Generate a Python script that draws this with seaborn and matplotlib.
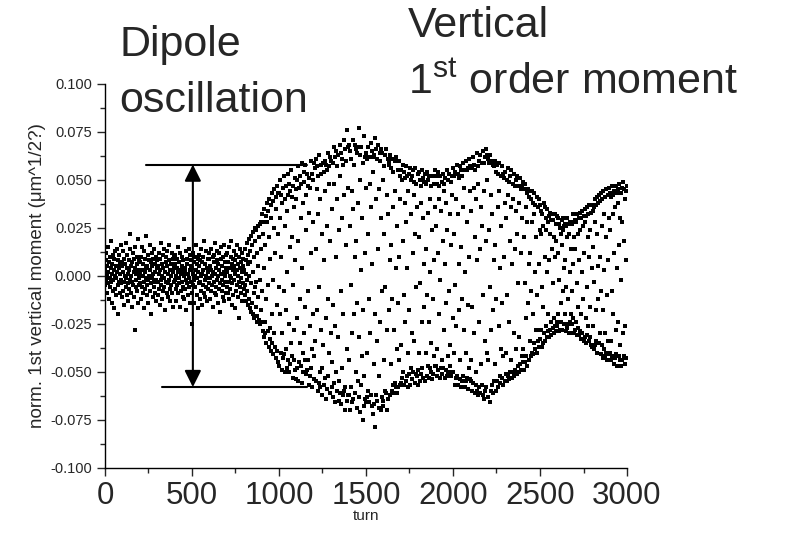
import matplotlib
matplotlib.use("Agg")
import matplotlib.pyplot as plt
import seaborn as sns
import pandas as pd
from matplotlib.ticker import MultipleLocator, AutoMinorLocator, FormatStrFormatter

# first order vertical moment in units of 1e-3, one row per 100 turns, sampled every 2 turns
moment_rows = [
    "3 -5 8 12 -2 0 -9 5 15 -4 2 -12 7 -1 10 -6 4 18 -3 -14 6 1 -8 11 -2 9 -17 3 0 13 -7 5 -1 -10 14 2 -5 8 -20 4 -3 11 6 -9 1 16 -4 -2 7 -11",
    "5 -8 2 13 -3 9 -15 0 6 -6 17 -1 -10 4 11 -4 1 -13 8 3 -7 14 -2 22 -9 5 0 -16 7 -3 12 -5 2 -11 9 -28 4 15 -6 1 -2 10 -8 6 -14 3 19 -1 -5 8",
    "-4 7 1 -12 10 -6 3 15 -9 0 6 -3 13 -17 2 -7 9 4 -1 21 -10 5 -5 11 -2 -14 8 0 -8 16 3 -4 7 -20 12 -1 5 -11 1 9 -6 14 -3 -9 6 2 -13 10 -2 4",
    "8 -3 -10 5 12 -7 1 -15 9 3 -5 17 -2 6 -12 0 11 -8 4 -1 14 -6 2 -18 7 -3 10 -9 5 13 -4 1 -11 8 -2 16 -7 3 -13 6 0 -5 12 -9 2 9 -16 4 -3 11",
    "-2 6 11 -7 0 -13 4 9 -5 2 15 -9 -1 7 -4 12 -16 3 1 -8 10 5 -3 -11 8 -6 19 0 -12 4 2 -7 13 -2 -18 6 9 -4 1 -10 14 -1 -6 3 11 -14 5 -3 8 -25",
    "4 -9 1 12 -5 7 -2 -14 10 0 -6 16 3 -10 6 -1 9 -17 2 11 -4 5 -12 8 -3 0 14 -8 7 -15 1 10 -5 3 -9 18 -2 6 -11 0 13 -6 4 -1 -13 9 2 -7 12 -4",
    "9 -1 -12 5 3 -8 14 0 -5 10 -16 2 7 -3 11 -9 1 17 -6 4 -10 8 -2 13 -14 6 0 -7 12 3 -4 -19 9 1 15 -8 5 -2 -11 10 -5 2 16 -13 7 0 -3 11 -9 4",
    "-6 12 2 -9 7 -3 15 -12 4 0 -7 10 -1 18 -15 6 -4 9 3 -10 13 -2 5 -17 8 1 -8 11 -5 3 16 -11 0 6 -3 -22 10 4 -6 14 -1 -9 7 2 12 -13 5 -4 9 -7",
    "3 -10 14 -5 8 -13 1 17 -8 -2 11 -15 6 19 -12 0 -17 13 7 -19 21 -4 -14 16 2 -20 23 -9 10 -22 18 -6 25 -16 -3 24 -21 12 -24 5 26 -11 -23 20 -2 27 -25 14 -18 28",
    "-24 32 -8 -29 22 28 -32 4 35 -24 -30 16 31 -12 -35 28 38 -29 -5 34 -37 20 40 -27 -33 9 37 -39 30 -20 43 -35 -2 39 -41 25 45 -30 -37 12 41 -43 35 -15 47 -39 22 43 -45 -6",
    "43 -47 30 -20 50 -40 10 42 -49 38 -30 46 -43 -8 52 -41 26 40 -50 -18 47 -38 34 -48 2 53 -44 42 -25 48 -50 15 44 -46 -35 55 20 -42 41 -53 -5 47 -44 36 -28 51 -49 8 45 -54",
    "40 -48 -22 50 -55 18 57 -45 46 -35 -12 52 -47 30 48 -56 4 59 -50 38 -40 49 -30 54 -44 -16 58 -51 42 24 -49 53 -8 47 -44 33 -57 51 -26 46 -52 12 60 -48 -38 53 -58 28 50 -20",
    "-54 59 -42 56 -34 14 61 -55 45 -18 57 -60 32 52 -56 -6 63 -50 40 -58 53 -28 58 -62 22 -48 59 -36 54 -57 8 60 -53 44 -22 58 -64 26 55 -59 -12 64 -52 48 -40 57 -61 18 62 -30",
    "60 -58 35 -45 59 -63 -15 67 -56 48 -26 62 -66 10 65 -50 40 -60 57 -32 63 -65 24 -55 68 -61 52 -8 64 -67 30 -48 61 -62 58 -20 71 -60 42 -58 66 -70 16 60 -65 76 -38 67 -62 46",
    "-62 68 -44 26 65 -70 -5 61 -58 44 -30 -66 71 35 -64 58 -20 68 10 -61 66 -50 18 64 -69 -14 67 -55 38 77 -63 -32 63 50 -71 3 -57 67 -42 30 -75 59 -18 -68 73 -52 12 62 -64 46",
    "-66 64 -40 61 -63 22 67 -60 -12 62 -66 48 -30 69 -62 36 65 -68 6 62 -72 54 -46 63 -67 -20 72 -79 40 66 -62 -34 61 -65 14 68 -52 45 -69 64 -24 60 -70 30 66 -63 -8 64 -68 50",
    "-65 57 -44 22 63 -60 -6 66 -61 42 -28 -70 61 32 -64 58 -18 60 8 -62 63 -46 16 56 -60 -12 61 -57 36 54 -61 -28 60 44 -56 4 -58 62 -38 26 -61 55 -14 -58 60 -44 10 52 -57 40",
    "-56 55 -36 50 -53 18 58 -50 -10 54 -57 38 -24 51 -55 28 57 -52 4 52 -58 44 -40 53 -51 -18 56 -57 32 50 -48 -30 52 -54 12 55 -50 42 -34 49 -56 22 56 -51 -6 48 -52 36 53 -57",
    "-49 54 -40 20 50 -55 -4 47 -51 38 -24 -48 55 30 -53 51 -16 49 6 -55 53 -40 14 48 -52 -10 54 -47 33 50 -53 -24 52 40 -48 2 -50 47 -35 24 -54 52 -12 -51 48 -42 8 55 -47 36",
    "52 -47 26 -38 48 -52 12 54 -49 40 -20 47 -53 -2 52 -48 34 -44 49 -51 18 53 -48 44 -28 48 -53 6 51 -49 38 -14 55 -52 24 -42 50 -50 -8 53 -47 32 -36 49 -52 16 52 -50 42 -22",
    "-50 56 -40 22 52 -57 -5 54 -53 40 -26 -52 58 32 -57 53 -18 51 6 -54 57 -44 15 55 -58 -12 52 -55 36 59 -52 -28 55 46 -58 2 -55 60 -40 28 -53 55 -15 -59 56 -48 10 61 -54 44",
    "57 -55 34 -44 56 -60 -16 62 -56 46 -30 58 -61 20 55 -57 40 -50 64 -60 8 57 -62 48 -24 60 -58 14 63 -61 36 -46 59 -57 26 65 -62 -10 59 -64 44 -34 62 -60 18 66 -58 50 -40 63",
    "-63 61 -44 24 59 -66 -6 63 -60 42 -28 -57 60 32 -61 58 -18 57 8 -55 60 -46 16 54 -60 -12 58 -55 36 53 -58 -26 59 44 -52 4 -56 52 -38 26 -53 57 -14 -57 53 -42 10 51 -55 38",
    "54 -51 30 -40 50 -55 -10 56 -52 42 -24 49 -54 18 52 -50 36 -44 55 -53 6 48 -50 40 -30 53 -52 14 47 -49 34 -38 50 -51 22 52 -47 -4 47 -50 38 -32 51 -46 12 45 -49 30 -42 47",
    "-45 49 -38 20 45 -49 -4 48 -45 36 -22 -42 43 28 -47 45 -14 41 6 -44 44 -34 12 40 -42 -8 44 -40 28 38 -41 -20 43 32 -35 2 -38 37 -28 20 -40 41 -10 -34 36 -28 6 40 -37 24",
    "37 -33 22 -28 34 -37 -6 32 -35 26 -16 38 -30 10 36 -34 24 -26 30 -32 2 35 -29 28 -20 31 -32 8 33 -28 22 -24 29 -31 14 32 -27 -4 29 -30 20 -22 32 -26 10 27 -29 18 -24 31",
    "-26 30 -20 12 27 -29 -2 25 -28 22 -14 -24 29 16 -28 24 -8 30 4 -25 26 -20 8 27 -29 -6 26 -27 20 30 -25 -12 27 22 -30 2 -24 28 -20 14 -30 27 -8 -25 32 -22 6 28 -30 20",
    "29 -28 14 -24 28 -31 -4 32 -27 22 -16 30 -31 8 33 -29 24 -20 30 -33 2 34 -30 26 -12 31 -34 12 35 -32 28 -22 31 -35 -6 36 -31 20 -26 32 -34 10 37 -32 24 -16 33 -36 4 37",
    "-37 34 -26 15 36 -38 -3 40 -36 28 -18 -34 37 22 -40 41 -12 38 5 -35 42 -30 10 39 -41 -8 43 -36 26 40 -43 -18 44 32 -38 3 -42 41 -30 20 -40 45 -10 -44 42 -34 8 46 -41 30",
    "43 -40 24 -34 41 -44 -8 47 -42 32 -20 42 -46 12 44 -43 36 -28 47 -41 4 43 -47 38 -24 45 -42 16 48 -44 30 -36 43 -47 -2 46 -44 28 -30 49 -42 18 45 -46 40 -26 44 -43 8 47",
]

turn = []
moment = []
for r, row in enumerate(moment_rows):
    for i, v in enumerate(row.split()):
        turn.append(r * 100 + 2 * i)
        moment.append(int(v) / 1000)

# dipole amplitude marker
amp_level = 0.058
arrow_turn = 505

df = pd.DataFrame({"turn": turn, "moment": moment})

sns.set_style("ticks")
plt.rcParams["font.family"] = ["Liberation Sans", "DejaVu Sans"]
plt.rcParams["mathtext.fontset"] = "custom"
plt.rcParams["mathtext.rm"] = "Liberation Sans"
plt.rcParams["axes.unicode_minus"] = False

fig = plt.figure(figsize=(7.87, 5.47), dpi=100)
ax = fig.add_axes([0.1334, 0.145, 0.6633, 0.7015])

sns.scatterplot(data=df, x="turn", y="moment", marker="s", s=6, color="black",
                linewidth=0, ax=ax, legend=False)

ax.set_xlim(0, 3000)
ax.set_ylim(-0.1, 0.1)
ax.xaxis.set_major_locator(MultipleLocator(500))
ax.xaxis.set_minor_locator(AutoMinorLocator(2))
ax.yaxis.set_major_locator(MultipleLocator(0.025))
ax.yaxis.set_minor_locator(AutoMinorLocator(2))
ax.yaxis.set_major_formatter(FormatStrFormatter("%.3f"))
ax.tick_params(axis="x", which="major", labelsize=22.5, length=6, width=1, direction="out")
ax.tick_params(axis="y", which="major", labelsize=10.5, length=6, width=1, direction="out")
ax.tick_params(which="minor", length=3.5, width=1, direction="out")
for side in ["top", "right"]:
    ax.spines[side].set_visible(False)
for side in ["left", "bottom"]:
    ax.spines[side].set_linewidth(1)
    ax.spines[side].set_color("black")

ax.set_xlabel("turn", fontsize=11, labelpad=-1)
ax.set_ylabel("norm. 1st vertical moment (\u03bcm^1/2?)", fontsize=13.5, labelpad=3)

# amplitude lines and double arrow
ax.plot([236, 1160], [amp_level, amp_level], color="black", lw=1.5)
ax.plot([328, 1160], [-amp_level, -amp_level], color="black", lw=1.5)
ax.annotate("", xy=(arrow_turn, amp_level), xytext=(arrow_turn, -amp_level),
            arrowprops=dict(arrowstyle="<|-|>", color="black", lw=1.5,
                            mutation_scale=25, shrinkA=0, shrinkB=0))

fig.text(0.152, 0.918, "Dipole", fontsize=31, ha="left", va="center")
fig.text(0.152, 0.815, "oscillation", fontsize=31, ha="left", va="center")
fig.text(0.518, 0.952, "Vertical", fontsize=31, ha="left", va="center")
fig.text(0.518, 0.848, "1$^{\\mathrm{st}}$ order moment", fontsize=31, ha="left", va="center")

plt.savefig("out.png", dpi=100)
